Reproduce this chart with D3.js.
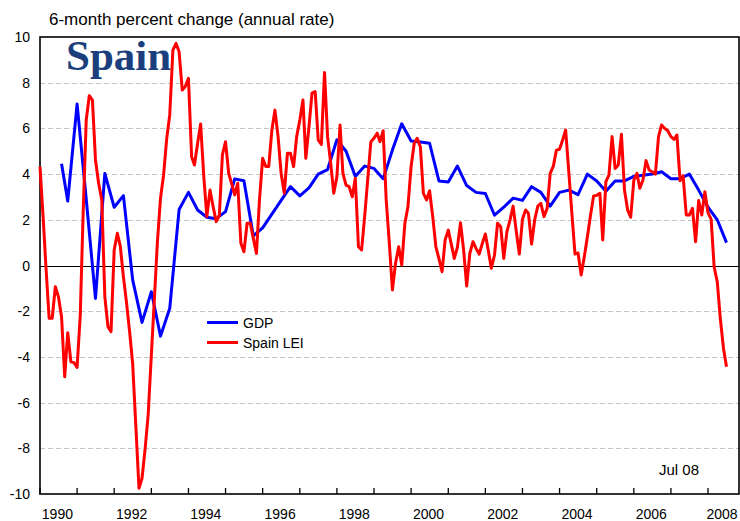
<!DOCTYPE html>
<html>
<head>
<meta charset="utf-8">
<script src="https://cdn.jsdelivr.net/npm/d3@7"></script>
<style>
  body { margin: 0; background: #fff; }
  text { font-family: Arial, "Liberation Sans", sans-serif; }
</style>
</head>
<body>
<script>
//------------------------------------------- Data ---------------------------------------------//
// GDP, 6-month percent change (annual rate), quarterly points
var gdpDates = [
  "1990-08", "1990-10",
  "1991-01", "1991-04", "1991-07", "1991-10",
  "1992-01", "1992-04", "1992-07", "1992-10",
  "1993-01", "1993-04", "1993-07", "1993-10",
  "1994-01", "1994-04", "1994-07", "1994-10",
  "1995-01", "1995-04", "1995-07", "1995-10",
  "1996-01", "1996-04", "1996-07", "1996-10",
  "1997-01", "1997-04", "1997-07", "1997-10",
  "1998-01", "1998-04", "1998-07", "1998-10",
  "1999-01", "1999-04", "1999-07", "1999-10",
  "2000-01", "2000-04", "2000-07", "2000-10",
  "2001-01", "2001-04", "2001-07", "2001-10",
  "2002-01", "2002-04", "2002-07", "2002-10",
  "2003-01", "2003-04", "2003-07", "2003-10",
  "2004-01", "2004-04", "2004-07", "2004-10",
  "2005-01", "2005-04", "2005-07", "2005-10",
  "2006-01", "2006-04", "2006-07", "2006-10",
  "2007-01", "2007-04", "2007-07", "2007-10",
  "2008-01", "2008-04", "2008-07"
];
var gdpValues = [
  4.45, 2.82,
  7.07, 2.9, -1.44, 4.03,
  2.55, 3.06, -0.63, -2.49,
  -1.15, -3.09, -1.87, 2.45,
  3.2, 2.43, 2.11, 2.05,
  2.36, 3.79, 3.71, 1.3,
  1.65, 2.25, 2.85, 3.45,
  3.05, 3.4, 4.0, 4.2,
  5.5, 5.0, 3.9, 4.35,
  4.25, 3.8, 5.05, 6.2,
  5.45, 5.4, 5.35, 3.7,
  3.65, 4.35, 3.5, 3.2,
  3.15, 2.2, 2.55, 2.95,
  2.85, 3.45, 3.2, 2.6,
  3.2, 3.3, 3.1, 4.0,
  3.7, 3.25, 3.7, 3.7,
  3.9, 3.95, 4.0, 4.1,
  3.8, 3.8, 4.0, 3.3,
  2.55, 2.0, 1.0
];

// Spain LEI, monthly from Jan 1990 to Jul 2008
var leiStart = "1990-01";
var leiValues = [
  4.33, 2.1, -0.1, -2.31, -2.31, -0.93, -1.36, -2.24, -4.87, -2.94, -4.21, -4.25, // 1990
  -4.46, -2.2, 2.2, 6.37, 7.43, 7.24, 4.62, 3.6, 2.87, -1.36, -2.68, -2.9,        // 1991
  0.68, 1.41, 0.85, -0.5, -1.6, -2.9, -4.3, -7.0, -9.75, -9.31, -8.0, -6.5,       // 1992
  -3.9, -1.35, 1.0, 2.95, 3.95, 5.55, 6.6, 9.43, 9.72, 9.35, 7.68, 7.83,          // 1993
  8.19, 4.76, 4.4, 5.35, 6.19, 3.89, 2.14, 3.3, 2.57, 1.92, 2.21, 4.84,           // 1994
  5.42, 4.03, 3.6, 3.09, 3.6, 0.97, 0.6, 1.85, 1.85, 1.2, 0.53, 2.87,             // 1995
  4.69, 4.33, 4.33, 5.93, 6.8, 5.64, 4.03, 3.16, 4.91, 4.91, 4.33, 5.64,          // 1996
  6.37, 7.24, 4.69, 6.07, 7.54, 7.61, 5.5, 5.3, 8.45, 5.64, 4.47, 3.16,           // 1997
  3.89, 6.15, 4.03, 3.52, 3.45, 3.01, 3.82, 0.82, 0.68, 2.14, 3.8, 5.42,          // 1998
  5.57, 5.79, 5.42, 5.9, 2.87, 0.97, -1.07, 0.1, 0.82, 0.02, 1.85, 2.57,          // 1999
  4.33, 5.35, 5.57, 5.2, 3.16, 2.87, 3.27, 2.14, 0.82, 0.3, -0.27, 1.12,          // 2000
  1.55, 0.9, 0.31, 0.8, 1.87, 0.68, -0.9, 0.53, 1.04, 0.75, 0.5, 0.95,            // 2001
  1.38, 0.6, -0.12, 0.46, 1.85, 1.7, 0.31, 1.48, 2.0, 2.6, 1.5, 0.5,              // 2002
  2.02, 2.43, 2.28, 0.94, 1.99, 2.6, 2.72, 2.14, 2.5, 4.03, 4.35, 5.05,           // 2003
  5.09, 5.5, 5.93, 4.1, 2.3, 0.5, 0.55, -0.42, 0.39, 1.26, 2.2, 3.04,             // 2004
  3.07, 3.16, 1.12, 3.67, 3.96, 5.64, 4.25, 4.4, 5.74, 3.3, 2.43, 2.11,           // 2005
  3.74, 4.03, 3.38, 3.74, 4.59, 4.18, 4.1, 4.0, 5.64, 6.15, 6.0, 5.9,             // 2006
  5.64, 5.52, 5.71, 3.71, 3.92, 2.21, 2.21, 2.5, 1.04, 2.84, 2.21, 3.23,          // 2007
  2.31, 2.02, -0.05, -0.71, -2.31, -3.62, -4.43                                   // 2008
];

var yTicks = [-10, -8, -6, -4, -2, 0, 2, 4, 6, 8, 10];
var yearLabels = ["1990", "1992", "1994", "1996", "1998", "2000", "2002", "2004", "2006", "2008"];
var seriesNames = ["GDP", "Spain LEI"];
var seriesColors = ["#0000ff", "#ff0000"];

//------------------------------------------- Setup ---------------------------------------------//
var width = 740,
  height = 521;
var plotLeft = 40,
  plotRight = 739,
  plotTop = 37,
  plotBottom = 494;

var parseMonth = d3.timeParse("%Y-%m");

var x = d3
  .scaleTime()
  .domain([new Date(1990, 0, 1), new Date(2008, 10, 1)])
  .range([plotLeft, plotRight]);
var y = d3.scaleLinear().domain([-10, 10]).range([plotBottom, plotTop]);

var svg = d3
  .select("body")
  .append("svg")
  .attr("width", width)
  .attr("height", height);

svg.append("rect").attr("width", width).attr("height", height).attr("fill", "#fff");

var gdp = gdpDates.map(function (d, i) {
  return { date: parseMonth(d), value: gdpValues[i] };
});
var lei = leiValues.map(function (v, i) {
  return { date: d3.timeMonth.offset(parseMonth(leiStart), i), value: v };
});

//------------------------------------------- Grid & frame ---------------------------------------------//
svg
  .append("g")
  .selectAll("line")
  .data(yTicks.filter(function (v) { return Math.abs(v) !== 10 && v !== 0; }))
  .enter()
  .append("line")
  .attr("x1", plotLeft)
  .attr("x2", plotRight)
  .attr("y1", function (d) { return Math.round(y(d)) + 0.5; })
  .attr("y2", function (d) { return Math.round(y(d)) + 0.5; })
  .attr("stroke", "#c4c4c4")
  .attr("stroke-width", 1)
  .attr("stroke-dasharray", "5,3");

svg
  .append("line")
  .attr("x1", plotLeft)
  .attr("x2", plotRight)
  .attr("y1", Math.round(y(0)) + 0.5)
  .attr("y2", Math.round(y(0)) + 0.5)
  .attr("stroke", "#000")
  .attr("stroke-width", 1);

// year ticks on the bottom axis, pointing up
svg
  .append("g")
  .selectAll("line")
  .data(x.ticks(d3.timeYear.every(1)))
  .enter()
  .append("line")
  .attr("x1", function (d) { return x(d); })
  .attr("x2", function (d) { return x(d); })
  .attr("y1", plotBottom)
  .attr("y2", plotBottom - 6)
  .attr("stroke", "#000")
  .attr("stroke-width", 1.3);

svg
  .append("rect")
  .attr("x", plotLeft)
  .attr("y", plotTop)
  .attr("width", plotRight - plotLeft)
  .attr("height", plotBottom - plotTop)
  .attr("fill", "none")
  .attr("stroke", "#000")
  .attr("stroke-width", 1.6);

//------------------------------------------- Labels ---------------------------------------------//
svg
  .append("g")
  .selectAll("text")
  .data(yTicks)
  .enter()
  .append("text")
  .attr("x", 30)
  .attr("y", function (d) { return y(d) + 5; })
  .attr("text-anchor", "end")
  .style("font-size", "14px")
  .text(function (d) { return d; });

// year labels sit in the middle of their year, last one kept inside the page
svg
  .append("g")
  .selectAll("text")
  .data(yearLabels)
  .enter()
  .append("text")
  .attr("x", function (d) { return Math.min(x(new Date(+d, 6, 1)) - 1, width - 18); })
  .attr("y", 519)
  .attr("text-anchor", "middle")
  .style("font-size", "14px")
  .text(function (d) { return d; });

svg
  .append("text")
  .attr("x", 49)
  .attr("y", 25)
  .style("font-size", "17px")
  .text("6-month percent change (annual rate)");

svg
  .append("text")
  .attr("x", 66)
  .attr("y", 70)
  .style("font-family", "'Times New Roman', 'Liberation Serif', serif")
  .style("font-weight", "bold")
  .style("font-size", "43px")
  .attr("fill", "#1b3f7c")
  .text("Spain");

svg
  .append("text")
  .attr("x", 659)
  .attr("y", 475)
  .style("font-size", "15px")
  .text("Jul 08");

//------------------------------------------- Lines ---------------------------------------------//
var line = d3
  .line()
  .x(function (d) { return x(d.date); })
  .y(function (d) { return y(d.value); });

[gdp, lei].forEach(function (series, i) {
  svg
    .append("path")
    .datum(series)
    .attr("d", line)
    .attr("fill", "none")
    .attr("stroke", seriesColors[i])
    .attr("stroke-width", 3)
    .attr("stroke-linejoin", "round");
});

//------------------------------------------- Legend ---------------------------------------------//
var legend = svg
  .append("g")
  .selectAll("g")
  .data(seriesNames)
  .enter()
  .append("g")
  .attr("transform", function (d, i) { return "translate(207," + (322.5 + i * 20) + ")"; });

legend
  .append("line")
  .attr("x1", 0)
  .attr("x2", 31)
  .attr("stroke", function (d, i) { return seriesColors[i]; })
  .attr("stroke-width", 3);

legend
  .append("text")
  .attr("x", 36)
  .attr("y", 5)
  .style("font-size", "14px")
  .text(function (d) { return d; });
</script>
</body>
</html>
